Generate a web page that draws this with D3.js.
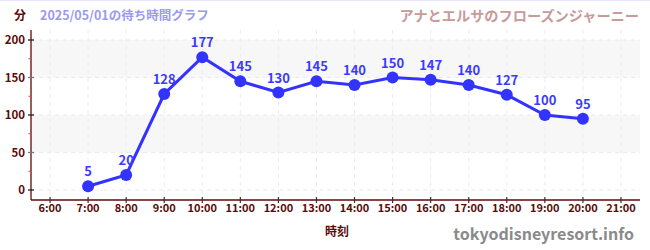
<!DOCTYPE html>
<html><head><meta charset="utf-8">
<script src="https://cdn.jsdelivr.net/npm/d3@7"></script>
<style>
html,body{margin:0;padding:0;background:#fff;}
svg{display:block;font-family:"Noto Sans CJK JP","Noto Sans",sans-serif;}
</style></head>
<body>
<svg id="c" width="650" height="250"></svg>
<script>
const hours = [7,8,9,10,11,12,13,14,15,16,17,18,19,20];
const waits = [5,20,128,177,145,130,145,140,150,147,140,127,100,95];
const xTickHours = [6,7,8,9,10,11,12,13,14,15,16,17,18,19,20,21];
const yTicks = [0,50,100,150,200];
const yMinorTicks = [25,75,125,175];
const bands = [[50,100],[150,200]];
const titleLeft = "分";
const titleDate = "2025/05/01の待ち時間グラフ";
const titleRight = "アナとエルサのフローズンジャーニー";
const xLabel = "時刻";
const site = "tokyodisneyresort.info";

const svg = d3.select("#c");
const axisColor = "#5c0a0a";
const x = d3.scaleLinear().domain([5.5,21.5]).range([31,640]);
const y = d3.scaleLinear().domain([0,200]).range([190,40]);
const yTop = 30, yBot = 200;

svg.append("line").attr("x1",0).attr("x2",650).attr("y1",0.5).attr("y2",0.5).attr("stroke","#e6e6fa");

svg.selectAll("rect.band").data(bands).join("rect")
  .attr("x",31).attr("width",609)
  .attr("y",d=>y(d[1])).attr("height",d=>y(d[0])-y(d[1]))
  .attr("fill","#f7f7f7");

svg.selectAll("line.vg").data(xTickHours).join("line")
  .attr("x1",d=>x(d)).attr("x2",d=>x(d)).attr("y1",yTop).attr("y2",yBot)
  .attr("stroke","#ececec").attr("stroke-dasharray","4,4");
svg.selectAll("line.hg").data(yTicks).join("line")
  .attr("x1",31).attr("x2",640).attr("y1",d=>y(d)).attr("y2",d=>y(d))
  .attr("stroke","#ececec").attr("stroke-dasharray","4,4");

svg.append("line").attr("x1",31).attr("x2",31).attr("y1",yTop).attr("y2",yBot).attr("stroke",axisColor).attr("stroke-width",1.3);
svg.selectAll("line.ymt").data(yMinorTicks).join("line")
  .attr("x1",28.5).attr("x2",31).attr("y1",d=>y(d)).attr("y2",d=>y(d))
  .attr("stroke","#ff3030").attr("stroke-width",1);
svg.selectAll("line.yt").data(yTicks).join("line")
  .attr("x1",28).attr("x2",34).attr("y1",d=>y(d)).attr("y2",d=>y(d))
  .attr("stroke",(d,i)=>i%2? "#777":"#222").attr("stroke-width",1.3);
svg.selectAll("text.yl").data(yTicks).join("text")
  .attr("x",25).attr("y",d=>y(d)).attr("dy","0.35em").attr("text-anchor","end")
  .attr("font-size",11.5).attr("font-weight","bold").attr("fill",axisColor).text(d=>d);

svg.append("line").attr("x1",31).attr("x2",640).attr("y1",yBot).attr("y2",yBot).attr("stroke",axisColor).attr("stroke-width",1.3);
svg.selectAll("line.xt").data(xTickHours).join("line")
  .attr("x1",d=>x(d)).attr("x2",d=>x(d)).attr("y1",yBot-3).attr("y2",yBot+3)
  .attr("stroke","#333").attr("stroke-width",1.2);
svg.selectAll("text.xl").data(xTickHours).join("text")
  .attr("x",d=>x(d)).attr("y",212).attr("text-anchor","middle")
  .attr("font-size",11).attr("font-weight","bold").attr("fill",axisColor).text(d=>d+":00");

const pts = hours.map((h,i)=>[h,waits[i]]);
svg.append("path").datum(pts)
  .attr("d",d3.line().x(d=>x(d[0])).y(d=>y(d[1])))
  .attr("fill","none").attr("stroke","#3333ff").attr("stroke-width",3);
svg.selectAll("circle.pt").data(pts).join("circle")
  .attr("cx",d=>x(d[0])).attr("cy",d=>y(d[1])).attr("r",6).attr("fill","#3333ff");
svg.selectAll("text.pl").data(pts).join("text")
  .attr("x",d=>x(d[0])).attr("y",d=>y(d[1])-10).attr("text-anchor","middle")
  .attr("font-size",13).attr("font-weight","bold").attr("fill","#3b3bff").text(d=>d[1]);

svg.append("text").attr("x",14).attr("y",20).attr("font-size",12).attr("font-weight","bold").attr("fill",axisColor).text(titleLeft);
svg.append("text").attr("x",40).attr("y",20).attr("font-size",12.5).attr("font-weight","bold").attr("fill","#9a9af0").text(titleDate);
svg.append("text").attr("x",639).attr("y",21).attr("text-anchor","end").attr("font-size",14.2).attr("font-weight","bold").attr("fill","#c99a9a").text(titleRight);
svg.append("text").attr("x",337).attr("y",236).attr("text-anchor","middle").attr("font-size",12).attr("font-weight","bold").attr("fill",axisColor).text(xLabel);
svg.append("text").attr("x",634).attr("y",240).attr("text-anchor","end").attr("font-size",16).attr("font-weight","bold").attr("fill","#8a8a8a").text(site);
</script>
</body></html>
